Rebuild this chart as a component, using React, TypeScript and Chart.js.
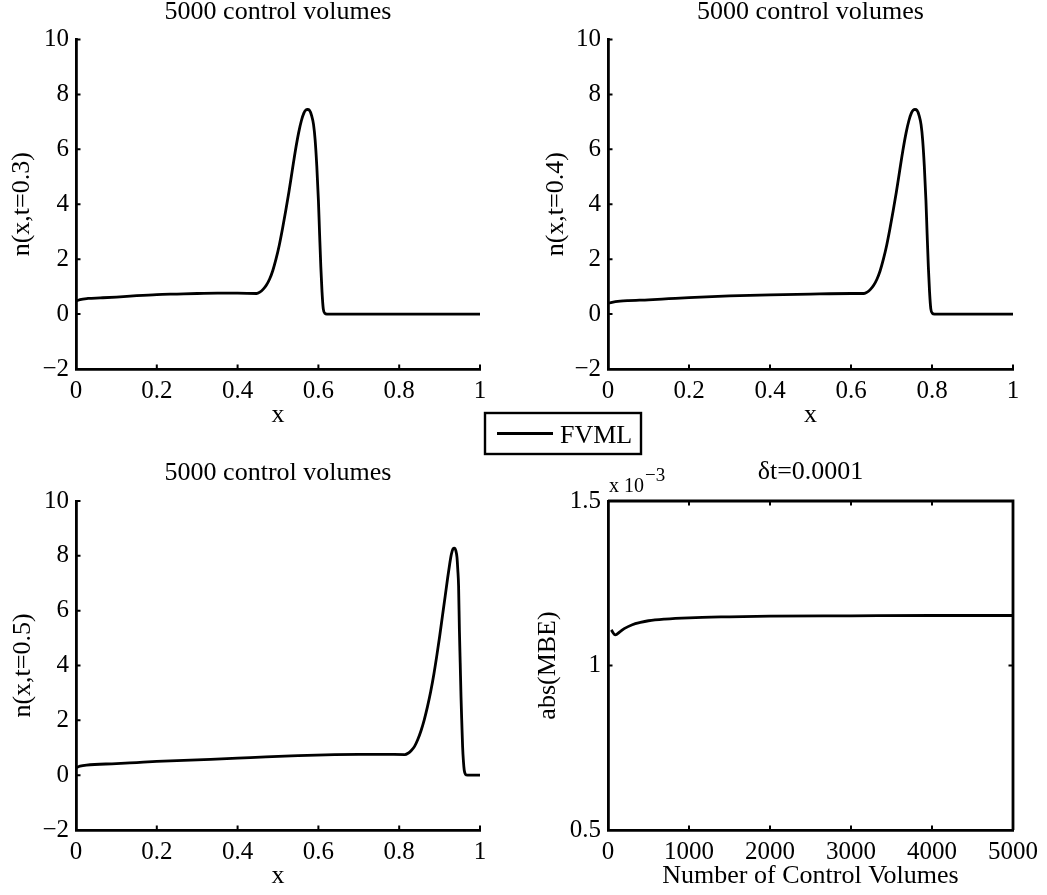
import React, { useEffect, useRef } from "react";
import { Chart, registerables } from "chart.js";

Chart.register(...registerables);

const W = 1047;
const H = 895;
const FONT = "'Liberation Serif', 'Times New Roman', Times, serif";

// ---------- data ----------
// n(x, t=0.3)
const x03 = [0, 0.01, 0.03, 0.06, 0.1, 0.15, 0.2, 0.25, 0.3, 0.35, 0.4, 0.447, 0.455, 0.463, 0.471, 0.479, 0.487, 0.495, 0.503, 0.511, 0.519, 0.527, 0.535, 0.543, 0.551, 0.558, 0.564, 0.569, 0.573, 0.578, 0.583, 0.588, 0.592, 0.596, 0.6, 0.603, 0.606, 0.609, 0.612, 0.616, 0.621, 0.7, 0.8, 0.9, 1];
const n03 = [0.47, 0.53, 0.57, 0.59, 0.62, 0.67, 0.71, 0.73, 0.75, 0.76, 0.76, 0.75, 0.8, 0.9, 1.05, 1.27, 1.58, 2.0, 2.5, 3.1, 3.75, 4.45, 5.2, 5.95, 6.6, 7.05, 7.32, 7.43, 7.45, 7.42, 7.24, 6.9, 6.33, 5.4, 4.15, 2.9, 1.72, 0.8, 0.2, 0.03, 0, 0, 0, 0, 0];

// n(x, t=0.4)
const x04 = [0, 0.01, 0.03, 0.05, 0.1, 0.15, 0.2, 0.3, 0.4, 0.5, 0.6, 0.632, 0.64, 0.648, 0.656, 0.664, 0.672, 0.68, 0.688, 0.696, 0.704, 0.712, 0.72, 0.728, 0.736, 0.743, 0.749, 0.754, 0.758, 0.763, 0.768, 0.773, 0.777, 0.781, 0.785, 0.788, 0.791, 0.794, 0.797, 0.801, 0.806, 0.9, 1];
const n04 = [0.39, 0.43, 0.47, 0.49, 0.52, 0.56, 0.6, 0.66, 0.7, 0.73, 0.75, 0.75, 0.8, 0.9, 1.05, 1.27, 1.58, 2.0, 2.5, 3.1, 3.75, 4.45, 5.2, 5.95, 6.6, 7.05, 7.32, 7.43, 7.45, 7.42, 7.24, 6.9, 6.33, 5.4, 4.15, 2.9, 1.72, 0.8, 0.2, 0.03, 0, 0, 0];

// n(x, t=0.5)
const x05 = [0, 0.01, 0.026, 0.1, 0.15, 0.2, 0.3, 0.4, 0.47, 0.55, 0.64, 0.7, 0.76, 0.814, 0.822, 0.83, 0.838, 0.846, 0.854, 0.862, 0.87, 0.878, 0.886, 0.893, 0.9, 0.907, 0.914, 0.92, 0.925, 0.929, 0.933, 0.937, 0.94, 0.943, 0.945, 0.947, 0.949, 0.951, 0.953, 0.955, 0.957, 0.959, 0.961, 0.964, 0.969, 1];
const n05 = [0.27, 0.33, 0.37, 0.42, 0.46, 0.5, 0.56, 0.62, 0.67, 0.71, 0.75, 0.76, 0.76, 0.75, 0.8, 0.9, 1.05, 1.3, 1.62, 2.02, 2.5, 3.05, 3.7, 4.35, 5.05, 5.8, 6.55, 7.2, 7.7, 8.05, 8.25, 8.28, 8.2, 7.95, 7.5, 6.9, 5.3, 4.1, 2.86, 1.9, 1.03, 0.5, 0.18, 0.03, 0, 0];

// abs(MBE) vs number of control volumes
const cvCounts = [40, 90, 150, 200, 300, 400, 500, 700, 1000, 1500, 2000, 3000, 4000, 5000];
const mbeValues = [1.108e-3, 1.093e-3, 1.103e-3, 1.112e-3, 1.124e-3, 1.131e-3, 1.136e-3, 1.141e-3, 1.145e-3, 1.148e-3, 1.15e-3, 1.151e-3, 1.152e-3, 1.152e-3];

// tick values
const xUnitTicks = [0, 0.2, 0.4, 0.6, 0.8, 1];
const nTicks = [-2, 0, 2, 4, 6, 8, 10];
const cvTicks = [0, 1000, 2000, 3000, 4000, 5000];
const mbeTicks = [0.5e-3, 1e-3, 1.5e-3];

const seriesLabel = "FVML";

// ---------- layout ----------
const XH = 62; // x axis box height
const TITLE_SIZE = 26;
const TITLE_LH = 0.9;
const AXIS_W = 2.8;

const fmtPlain = (v: number) => (v < 0 ? "\u2212" + String(Math.abs(v)) : String(v));
const fmtMilli = (v: number) => String(+(v * 1000).toFixed(3));

type PanelDef = {
  key: string;
  xs: number[];
  ys: number[];
  plot: { left: number; top: number; right: number; bottom: number };
  title: string;
  titleMid: number;
  xLabel: string;
  yLabel: string;
  xMin: number;
  xMax: number;
  yMin: number;
  yMax: number;
  xTicks: number[];
  yTicks: number[];
  xFmt: (v: number) => string;
  yFmt: (v: number) => string;
  yAxisW: number;
  box?: boolean;
  exponent?: boolean;
  legend?: boolean;
};

const PANELS: PanelDef[] = [
  {
    key: "t03", xs: x03, ys: n03,
    plot: { left: 76, top: 39.5, right: 480, bottom: 369 },
    title: "5000 control volumes", titleMid: 12,
    xLabel: "x", yLabel: "n(x,t=0.3)",
    xMin: 0, xMax: 1, yMin: -2, yMax: 10, xTicks: xUnitTicks, yTicks: nTicks,
    xFmt: fmtPlain, yFmt: fmtPlain, yAxisW: 69.6, legend: true,
  },
  {
    key: "t04", xs: x04, ys: n04,
    plot: { left: 608, top: 39.5, right: 1013, bottom: 369 },
    title: "5000 control volumes", titleMid: 12,
    xLabel: "x", yLabel: "n(x,t=0.4)",
    xMin: 0, xMax: 1, yMin: -2, yMax: 10, xTicks: xUnitTicks, yTicks: nTicks,
    xFmt: fmtPlain, yFmt: fmtPlain, yAxisW: 67.6,
  },
  {
    key: "t05", xs: x05, ys: n05,
    plot: { left: 76, top: 501, right: 480, bottom: 830 },
    title: "5000 control volumes", titleMid: 473.5,
    xLabel: "x", yLabel: "n(x,t=0.5)",
    xMin: 0, xMax: 1, yMin: -2, yMax: 10, xTicks: xUnitTicks, yTicks: nTicks,
    xFmt: fmtPlain, yFmt: fmtPlain, yAxisW: 68.6,
  },
  {
    key: "mbe", xs: cvCounts, ys: mbeValues,
    plot: { left: 608, top: 501, right: 1013, bottom: 830 },
    title: "\u03b4t=0.0001", titleMid: 472.6,
    xLabel: "Number of Control Volumes", yLabel: "abs(MBE)",
    xMin: 0, xMax: 5000, yMin: 0.5e-3, yMax: 1.5e-3, xTicks: cvTicks, yTicks: mbeTicks,
    xFmt: fmtPlain, yFmt: fmtMilli, yAxisW: 75.6, box: true, exponent: true,
  },
];

const LEGEND_BOX = { left: 485, top: 413, width: 156, height: 41, lineFrom: 497, lineTo: 553, textX: 560, baseline: 443 };

const matlabAxes = {
  id: "matlabAxes",
  afterDraw(chart: any, _args: any, opts: any) {
    const { ctx, chartArea: a } = chart;
    const xs = chart.scales.x;
    const ys = chart.scales.y;
    const tl = 4.5;
    ctx.save();
    ctx.strokeStyle = "#000";
    ctx.fillStyle = "#000";
    if (opts.box) {
      ctx.lineWidth = AXIS_W;
      ctx.lineJoin = "miter";
      ctx.beginPath();
      ctx.moveTo(a.left, a.top);
      ctx.lineTo(a.right, a.top);
      ctx.lineTo(a.right, a.bottom);
      ctx.stroke();
    }
    ctx.lineWidth = 2;
    ctx.beginPath();
    for (const t of xs.ticks) {
      const px = xs.getPixelForValue(t.value);
      ctx.moveTo(px, a.bottom);
      ctx.lineTo(px, a.bottom - tl);
      if (opts.box) {
        ctx.moveTo(px, a.top);
        ctx.lineTo(px, a.top + tl);
      }
    }
    for (const t of ys.ticks) {
      const py = ys.getPixelForValue(t.value);
      ctx.moveTo(a.left, py);
      ctx.lineTo(a.left + tl, py);
      if (opts.box) {
        ctx.moveTo(a.right, py);
        ctx.lineTo(a.right - tl, py);
      }
    }
    ctx.stroke();

    if (opts.exponent) {
      ctx.textBaseline = "alphabetic";
      ctx.textAlign = "left";
      ctx.font = `20px ${FONT}`;
      const base = "x 10";
      ctx.fillText(base, a.left + 1, a.top - 9);
      const w = ctx.measureText(base).width;
      ctx.font = `19px ${FONT}`;
      ctx.fillText("\u22123", a.left + 1 + w + 1, a.top - 20);
    }

    if (opts.legend) {
      const ds = chart.data.datasets[0];
      const L = LEGEND_BOX;
      ctx.lineWidth = 2.4;
      ctx.strokeRect(L.left, L.top, L.width, L.height);
      ctx.lineWidth = ds.borderWidth;
      ctx.strokeStyle = ds.borderColor;
      ctx.beginPath();
      const ly = L.top + L.height / 2;
      ctx.moveTo(L.lineFrom, ly);
      ctx.lineTo(L.lineTo, ly);
      ctx.stroke();
      ctx.font = `26px ${FONT}`;
      ctx.textAlign = "left";
      ctx.textBaseline = "alphabetic";
      ctx.fillText(ds.label, L.textX, L.baseline);
    }
    ctx.restore();
  },
};

function buildConfig(p: PanelDef): any {
  const titleLH = TITLE_SIZE * TITLE_LH;
  const padTop = p.titleMid - titleLH / 2;
  const titleGap = p.plot.top - padTop - titleLH;
  const padding = {
    left: p.plot.left - p.yAxisW,
    right: W - p.plot.right,
    top: padTop,
    bottom: H - p.plot.bottom - XH,
  };
  const tickFont = { family: FONT, size: 25 };
  const labelFont = { family: FONT, size: 26 };
  const border = { display: true, color: "#000", width: AXIS_W };
  return {
    type: "line",
    data: {
      datasets: [
        {
          label: seriesLabel,
          data: p.xs.map((x, i) => ({ x, y: p.ys[i] })),
          borderColor: "#000",
          borderWidth: 2.8,
          pointRadius: 0,
          fill: false,
          cubicInterpolationMode: "monotone",
        },
      ],
    },
    options: {
      animation: false,
      responsive: false,
      maintainAspectRatio: false,
      events: [],
      layout: { padding },
      plugins: {
        legend: { display: false },
        tooltip: { enabled: false },
        title: {
          display: true,
          text: p.title,
          fullSize: false,
          color: "#000",
          font: { family: FONT, size: TITLE_SIZE, lineHeight: TITLE_LH, weight: "normal" },
          padding: { top: 0, bottom: titleGap },
        },
        matlabAxes: { box: !!p.box, exponent: !!p.exponent, legend: !!p.legend },
      },
      scales: {
        x: {
          type: "linear",
          min: p.xMin,
          max: p.xMax,
          bounds: "data",
          grid: { display: false, drawTicks: false },
          border,
          ticks: {
            color: "#000",
            font: tickFont,
            padding: 7,
            autoSkip: false,
            maxRotation: 0,
            callback: (v: number) => p.xFmt(v),
          },
          afterBuildTicks: (s: any) => {
            s.ticks = p.xTicks.map((v) => ({ value: v }));
          },
          afterFit: (s: any) => {
            s.height = XH;
          },
          title: { display: true, text: p.xLabel, color: "#000", font: labelFont, padding: 0 },
        },
        y: {
          type: "linear",
          min: p.yMin,
          max: p.yMax,
          bounds: "data",
          grid: { display: false, drawTicks: false },
          border,
          ticks: {
            color: "#000",
            font: tickFont,
            padding: 7,
            autoSkip: false,
            callback: (v: number) => p.yFmt(v),
          },
          afterBuildTicks: (s: any) => {
            s.ticks = p.yTicks.map((v) => ({ value: v }));
          },
          afterFit: (s: any) => {
            s.width = p.yAxisW;
          },
          title: { display: true, text: p.yLabel, color: "#000", font: labelFont, padding: 0 },
        },
      },
    },
    plugins: [matlabAxes],
  };
}

function PanelChart({ p }: { p: PanelDef }) {
  const ref = useRef<HTMLCanvasElement>(null);
  useEffect(() => {
    if (!ref.current) return;
    const chart = new Chart(ref.current, buildConfig(p));
    return () => chart.destroy();
  }, [p]);
  return (
    <canvas
      ref={ref}
      width={W}
      height={H}
      style={{ position: "absolute", left: 0, top: 0, width: W, height: H }}
    />
  );
}

export default function App() {
  return (
    <div style={{ position: "absolute", left: 0, top: 0, width: W, height: H, background: "#fff", overflow: "hidden" }}>
      {PANELS.map((p) => (
        <PanelChart key={p.key} p={p} />
      ))}
    </div>
  );
}
